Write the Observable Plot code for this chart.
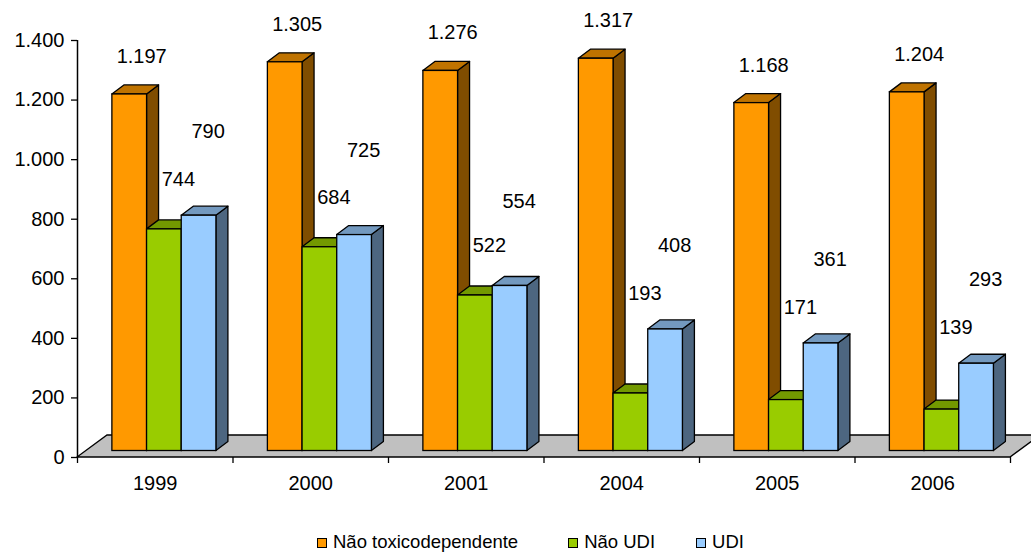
<!DOCTYPE html>
<html lang="pt">
<head>
<meta charset="utf-8">
<title>Não toxicodependente, Não UDI e UDI, 1999–2006</title>
<script src="https://cdn.jsdelivr.net/npm/d3@7"></script>
<script src="https://cdn.jsdelivr.net/npm/@observablehq/plot@0.6"></script>
<style>
  html, body { margin: 0; padding: 0; background: #fff; overflow: hidden; }
  body { width: 1031px; height: 552px; font-family: "Liberation Sans", Arial, sans-serif; color: #000; }
  #chart svg { display: block; }
  #legend { display: flex; justify-content: center; padding-left: 30px; margin-top: 22px;
            font-size: 18.5px; line-height: 20px; height: 20px; }
  #legend .item { display: flex; align-items: center; gap: 6px; white-space: nowrap; margin-right: 45px; }
  #legend .item:first-child { margin-right: 50px; }
  #legend .item:nth-child(2) { margin-right: 41px; }
  #legend .item:last-child { margin-right: 0; }
  #legend .swatch { width: 10px; height: 10px; box-sizing: border-box; border: 1.3px solid #000; margin-top: 1px; }
</style>
</head>
<body>
<div id="chart"></div>
<div id="legend"></div>
<script>
// Categories, series and tick values
const years = ["1999", "2000", "2001", "2004", "2005", "2006"];
const seriesNames = ["Não toxicodependente", "Não UDI", "UDI"];
const naoToxicodependente = [1197, 1305, 1276, 1317, 1168, 1204];
const naoUDI = [744, 684, 522, 193, 171, 139];
const udi = [790, 725, 554, 408, 361, 293];
const yTicks = [0, 200, 400, 600, 800, 1000, 1200, 1400];
const seriesColors = ["#ff9900", "#99cc00", "#99ccff"];

// Long table: one row per (year, series)
const seriesValues = [naoToxicodependente, naoUDI, udi];
const rows = years.flatMap((year, i) =>
  seriesNames.map((series, j) => ({year, i, j, series, value: seriesValues[j][i]}))
);

// Portuguese number format: 1.197
const fmt = d3.formatLocale({decimal: ",", thousands: ".", grouping: [3], currency: ["", ""]}).format(",d");

// Pseudo-3D geometry (pixel offsets of the depth axis)
const FLOOR = {dx: 30, dy: -22};   // depth of the floor
const SHIFT = {dx: 10, dy: -6.5};  // bars stand partway into the floor
const DEPTH = {dx: 12, dy: -9};    // depth of each box
const GROUP_START = 0.16, BAR_W = 0.223;  // in category units

const bx1 = d => d.i + GROUP_START + d.j * BAR_W;
const bx2 = d => bx1(d) + BAR_W;
const bxc = d => bx1(d) + BAR_W / 2;

const shade = (c, k) => { const r = d3.rgb(c); return d3.rgb(r.r * k, r.g * k, r.b * k).formatHex(); };

// Grey floor under the boxes
function floorMark(index, {x, y}) {
  const x0 = x(0), xn = x(years.length), y0 = y(0);
  const pts = [[x0, y0], [xn, y0], [xn + FLOOR.dx, y0 + FLOOR.dy], [x0 + FLOOR.dx, y0 + FLOOR.dy]];
  return d3.create("svg:polygon")
    .attr("points", pts.join(" "))
    .attr("fill", "#c0c0c0")
    .attr("stroke", "#000")
    .attr("stroke-width", 1.3)
    .node();
}

// Right side and top face of each box
function boxFaces(index, {x, y}) {
  const g = d3.create("svg:g")
    .attr("stroke", "#000")
    .attr("stroke-width", 1.3)
    .attr("stroke-linejoin", "round");
  for (const d of rows) {
    const L = x(bx1(d)) + SHIFT.dx, R = x(bx2(d)) + SHIFT.dx;
    const B = y(0) + SHIFT.dy, T = y(d.value) + SHIFT.dy;
    const c = seriesColors[d.j];
    g.append("polygon")
      .attr("points", [[R, B], [R, T], [R + DEPTH.dx, T + DEPTH.dy], [R + DEPTH.dx, B + DEPTH.dy]].join(" "))
      .attr("fill", shade(c, 0.5));
    g.append("polygon")
      .attr("points", [[L, T], [R, T], [R + DEPTH.dx, T + DEPTH.dy], [L + DEPTH.dx, T + DEPTH.dy]].join(" "))
      .attr("fill", shade(c, 0.75));
  }
  return g.node();
}

const labelText = d => fmt(d.value);

const chart = Plot.plot({
  width: 1031,
  height: 510,
  marginLeft: 77,
  marginRight: 21,
  marginTop: 40,
  marginBottom: 53,
  style: {fontFamily: "'Liberation Sans', Arial, sans-serif", fontSize: "20px", color: "#000", background: "#fff", overflow: "hidden"},
  x: {domain: [0, years.length]},
  y: {domain: [0, 1400]},
  color: {domain: seriesNames, range: seriesColors},
  marks: [
    floorMark,
    boxFaces,
    Plot.rect(rows, {
      x1: bx1, x2: bx2, y1: 0, y2: "value",
      fill: "series", stroke: "#000", strokeWidth: 1.3,
      dx: SHIFT.dx, dy: SHIFT.dy
    }),
    Plot.ruleX([0], {y1: 0, y2: 1400, stroke: "#000", strokeWidth: 1.5}),
    Plot.axisY({ticks: yTicks, tickFormat: fmt, tickSize: 6, tickPadding: 7, label: null, strokeWidth: 1.3, fontSize: 20}),
    Plot.axisX({ticks: d3.range(years.length + 1), tickFormat: () => "", tickSize: 6, label: null, strokeWidth: 1.3}),
    Plot.axisX({ticks: years.map((_, i) => i + 0.5), tickFormat: v => years[Math.floor(v)], tickSize: 0, tickPadding: 18, label: null, fontSize: 20}),
    // value labels
    Plot.text(rows.filter(d => d.j === 0), {x: bxc, y: "value", text: labelText, dx: SHIFT.dx + 12, dy: SHIFT.dy - 38, fill: "#000", fontSize: 20}),
    // the "Não UDI" label stays stacked just below the UDI label
    Plot.text(rows.filter(d => d.j === 1), {x: bxc, y: d => Math.max(d.value, udi[d.i] - 47), text: labelText, dx: SHIFT.dx + 14, dy: SHIFT.dy - 50, fill: "#000", fontSize: 20}),
    Plot.text(rows.filter(d => d.j === 2), {x: bxc, y: "value", text: labelText, dx: SHIFT.dx + 9, dy: SHIFT.dy - 84, fill: "#000", fontSize: 20})
  ]
});
document.getElementById("chart").append(chart);

// Legend below the chart
const legend = d3.select("#legend");
seriesNames.forEach((name, j) => {
  const item = legend.append("div").attr("class", "item");
  item.append("div").attr("class", "swatch").style("background", seriesColors[j]);
  item.append("span").text(name);
});
</script>
</body>
</html>
